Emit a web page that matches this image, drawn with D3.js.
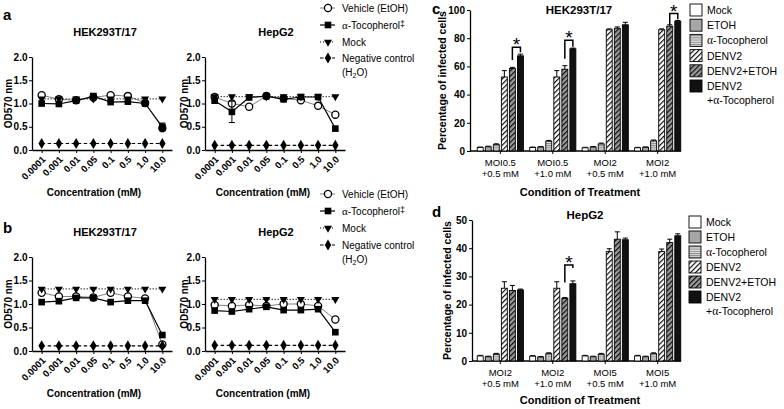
<!DOCTYPE html>
<html><head><meta charset="utf-8">
<script src="https://cdn.jsdelivr.net/npm/d3@7"></script>
<style>
body{margin:0;background:#fff}
svg{display:block}
text{font-family:"Liberation Sans",Arial,Helvetica,sans-serif;fill:#000}
</style>
</head><body>
<svg id="fig" width="784" height="409"></svg>
<script>
// ---------------- DATA ----------------
const concentrations = ["0.0001","0.001","0.01","0.05","0.1","0.5","1.0","10.0"];
const odTicks = [0, 0.5, 1.0, 1.5, 2.0];
const lineSeriesNames = ["Vehicle (EtOH)", "α-Tocopherol‡", "Mock", "Negative control"];

// panel a – HEK293T/17
const aHekVehicle = [1.18, 1.09, 1.07, 1.13, 1.18, 1.16, 1.01, 0.47];
const aHekVehicleErr = [0.02, 0.02, 0.02, 0.02, 0.02, 0.02, 0.02, 0.05];
const aHekToco = [1.00, 0.99, 1.06, 1.16, 1.03, 1.04, 1.00, 0.50];
const aHekTocoErr = [0.02, 0.02, 0.03, 0.05, 0.02, 0.02, 0.02, 0.08];
const aHekMock = [1.10, 1.10, 1.10, 1.10, 1.10, 1.10, 1.10, 1.10];
const aHekNeg = [0.14, 0.14, 0.14, 0.14, 0.14, 0.14, 0.14, 0.14];
// panel a – HepG2
const aHepVehicle = [1.14, 1.00, 0.93, 1.16, 1.11, 1.07, 0.95, 0.76];
const aHepVehicleErr = [0.02, 0.03, 0.02, 0.02, 0.02, 0.02, 0.02, 0.02];
const aHepToco = [1.06, 0.82, 1.13, 1.16, 1.09, 1.14, 1.14, 0.46];
const aHepTocoErr = [0.03, 0.23, 0.03, 0.02, 0.02, 0.02, 0.02, 0.03];
const aHepMock = [1.15, 1.15, 1.15, 1.15, 1.15, 1.15, 1.15, 1.15];
const aHepNeg = [0.10, 0.10, 0.10, 0.10, 0.10, 0.10, 0.10, 0.10];
// panel b – HEK293T/17
const bHekVehicle = [1.24, 1.16, 1.16, 1.14, 1.24, 1.16, 1.12, 0.14];
const bHekVehicleErr = [0.02, 0.02, 0.02, 0.02, 0.02, 0.02, 0.02, 0.02];
const bHekToco = [1.04, 1.06, 1.13, 1.13, 1.04, 1.07, 1.07, 0.34];
const bHekTocoErr = [0.02, 0.02, 0.02, 0.02, 0.02, 0.02, 0.02, 0.02];
const bHekMock = [1.32, 1.32, 1.32, 1.32, 1.32, 1.32, 1.32, 1.32];
const bHekNeg = [0.11, 0.11, 0.11, 0.11, 0.11, 0.11, 0.11, 0.11];
// panel b – HepG2
const bHepVehicle = [0.98, 0.96, 0.98, 0.96, 1.00, 1.00, 0.96, 0.67];
const bHepVehicleErr = [0.02, 0.02, 0.02, 0.02, 0.02, 0.02, 0.02, 0.02];
const bHepToco = [0.86, 0.84, 0.89, 0.94, 0.87, 0.87, 0.89, 0.40];
const bHepTocoErr = [0.02, 0.02, 0.02, 0.02, 0.02, 0.02, 0.02, 0.02];
const bHepMock = [1.10, 1.10, 1.10, 1.10, 1.10, 1.10, 1.10, 1.10];
const bHepNeg = [0.12, 0.12, 0.12, 0.12, 0.12, 0.12, 0.12, 0.12];

// bar panels
const barSeries = ["Mock", "ETOH", "α-Tocopherol", "DENV2", "DENV2+ETOH", "DENV2+α-Tocopherol"];
const cGroups = [["MOI0.5", "+0.5 mM"], ["MOI0.5", "+1.0 mM"], ["MOI2", "+0.5 mM"], ["MOI2", "+1.0 mM"]];
const cTicks = [0, 20, 40, 60, 80, 100];
const cMock = [2.5, 2.5, 2.3, 2.3];
const cEtoh = [3.0, 2.8, 2.8, 2.6];
const cToco = [4.5, 7.0, 5.0, 7.2];
const cDenv = [52.5, 52.5, 86.0, 86.0];
const cDenvEtoh = [58.5, 58.0, 87.0, 88.5];
const cDenvToco = [67.5, 72.5, 89.5, 92.0];
const cMockErr = [0.3, 0.3, 0.3, 0.3];
const cEtohErr = [0.4, 0.3, 0.4, 0.3];
const cTocoErr = [0.6, 0.5, 0.6, 0.6];
const cDenvErr = [4.5, 4.5, 0.6, 0.6];
const cDenvEtohErr = [0.8, 2.5, 1.0, 1.0];
const cDenvTocoErr = [1.2, 0.5, 1.8, 0.6];
// significance brackets: [group index, level, left-leg end, right-leg end]
const cSignif = [[0, 73.5, 64.5, 70], [1, 78.5, 65.5, 74], [3, 97.5, 89.5, 93.5]];

const dGroups = [["MOI2", "+0.5 mM"], ["MOI2", "+1.0 mM"], ["MOI5", "+0.5 mM"], ["MOI5", "+1.0 mM"]];
const dTicks = [0, 10, 20, 30, 40, 50];
const dMock = [1.8, 1.7, 1.8, 1.8];
const dEtoh = [1.5, 1.4, 1.5, 1.5];
const dToco = [2.4, 2.6, 2.4, 2.6];
const dDenv = [25.8, 25.8, 38.8, 38.8];
const dDenvEtoh = [25.0, 22.2, 43.2, 42.0];
const dDenvToco = [25.2, 27.4, 43.0, 44.4];
const dMockErr = [0.2, 0.2, 0.2, 0.2];
const dEtohErr = [0.2, 0.2, 0.2, 0.2];
const dTocoErr = [0.3, 0.3, 0.3, 0.3];
const dDenvErr = [2.3, 2.3, 1.0, 0.9];
const dDenvEtohErr = [1.8, 0.3, 2.6, 1.2];
const dDenvTocoErr = [0.3, 1.0, 0.6, 0.7];
const dSignif = [[1, 34.0, 27.8, 33.0]];

// ---------------- DRAWING ----------------
const svg = d3.select("#fig");
svg.append("rect").attr("width", 784).attr("height", 409).attr("fill", "#fff");
const defs = svg.append("defs");

// patterns
const ph = defs.append("pattern").attr("id", "hstripe").attr("patternUnits", "userSpaceOnUse")
  .attr("width", 4).attr("height", 2.2);
ph.append("rect").attr("width", 4).attr("height", 2.2).attr("fill", "#dcdcdc");
ph.append("line").attr("x1", 0).attr("x2", 4).attr("y1", 0.5).attr("y2", 0.5).attr("stroke", "#7a7a7a").attr("stroke-width", 0.8);
function diag(id, bg) {
  const p = defs.append("pattern").attr("id", id).attr("patternUnits", "userSpaceOnUse")
    .attr("width", 3.6).attr("height", 3.6).attr("patternTransform", "rotate(45)");
  p.append("rect").attr("width", 3.6).attr("height", 3.6).attr("fill", bg);
  p.append("line").attr("x1", 0.6).attr("x2", 0.6).attr("y1", 0).attr("y2", 3.6).attr("stroke", "#000").attr("stroke-width", 1.1);
}
diag("diagW", "#fff");
diag("diagG", "#9a9a9a");
const barFills = ["#fff", "#a6a6a6", "url(#hstripe)", "url(#diagW)", "url(#diagG)", "#111"];

function panelLetter(t, x, y) {
  svg.append("text").attr("x", x).attr("y", y).attr("font-size", 15).attr("font-weight", "bold").text(t);
}

const markerSym = [d3.symbolCircle, d3.symbolSquare, d3.symbolTriangle, d3.symbolDiamond];
const markerSize = [40, 44, 28, 36];
function drawMarker(g, i, cx, cy) {
  const p = g.append("path").attr("d", d3.symbol(markerSym[i], markerSize[i])())
    .attr("transform", `translate(${cx},${cy})` + (i === 2 ? " rotate(180)" : ""));
  if (i === 0) p.attr("fill", "#fff").attr("stroke", "#000").attr("stroke-width", 1.3);
  else p.attr("fill", "#000");
}
const lineStyles = [
  {stroke: "#7f7f7f", width: 1, dash: null},
  {stroke: "#000", width: 1.2, dash: null},
  {stroke: "#000", width: 1.2, dash: "1,2"},
  {stroke: "#000", width: 1.1, dash: "3.5,2.5"}
];

function linePanel(o) {
  const g = svg.append("g");
  const x = d3.scalePoint().domain(concentrations).range([o.x0, o.x1]).padding(0.56);
  const y = d3.scaleLinear().domain([0, 2]).range([o.yB, o.yT]);
  const ya = g.append("g").attr("transform", `translate(${o.x0},0)`)
    .call(d3.axisLeft(y).tickValues(odTicks).tickFormat(d3.format(".1f")).tickSize(3).tickSizeOuter(0).tickPadding(1.5));
  ya.selectAll("text").attr("font-size", 10).attr("font-weight", "bold").attr("font-family", "Liberation Sans, Arial");
  const xa = g.append("g").attr("transform", `translate(0,${o.yB})`)
    .call(d3.axisBottom(x).tickSize(3).tickSizeOuter(0));
  xa.selectAll("text").attr("font-size", 9.5).attr("font-weight", "bold").attr("font-family", "Liberation Sans, Arial")
    .attr("text-anchor", "end").attr("y", 0).attr("dy", 0)
    .attr("transform", "translate(4,10) rotate(-45)");
  g.selectAll(".domain").attr("stroke", "#000").attr("stroke-width", 1.3);
  g.selectAll(".tick line").attr("stroke", "#000").attr("stroke-width", 1);

  g.append("text").attr("x", o.titleX).attr("y", o.titleY).attr("text-anchor", "middle")
    .attr("font-size", 11).attr("font-weight", "bold").text(o.title);
  g.append("text").attr("transform", `translate(${o.yLabX},${(o.yT + o.yB) / 2}) rotate(-90)`)
    .attr("text-anchor", "middle").attr("font-size", 10).attr("font-weight", "bold").text("OD570 nm");
  g.append("text").attr("x", o.xTitX).attr("y", o.xTitY).attr("text-anchor", "middle")
    .attr("font-size", 10).attr("font-weight", "bold").text("Concentration (mM)");

  const line = d3.line().x((d, i) => x(concentrations[i])).y(d => y(d));
  const data = [o.vehicle, o.toco, o.mock, o.neg];
  const errs = [o.vehicleErr, o.tocoErr, null, null];
  data.forEach((vals, si) => {
    const st = lineStyles[si];
    g.append("path").attr("d", line(vals)).attr("fill", "none").attr("stroke", st.stroke)
      .attr("stroke-width", st.width).attr("stroke-dasharray", st.dash);
  });
  [0, 1, 2, 3].forEach(si => {
    const vals = data[si];
    vals.forEach((v, i) => {
      const cx = x(concentrations[i]);
      if (errs[si]) {
        const e = errs[si][i];
        if (e > 0.03) {
          const y1 = y(v - e), y2 = y(v + e);
          g.append("line").attr("x1", cx).attr("x2", cx).attr("y1", y1).attr("y2", y2).attr("stroke", "#000").attr("stroke-width", 1);
          [y1, y2].forEach(yy => g.append("line").attr("x1", cx - 3).attr("x2", cx + 3).attr("y1", yy).attr("y2", yy).attr("stroke", "#000").attr("stroke-width", 1));
        }
      }
      drawMarker(g, si, cx, y(v));
    });
  });
}

function lineLegend(x, rows) {
  const g = svg.append("g");
  lineSeriesNames.forEach((name, i) => {
    const st = lineStyles[i];
    const cy = rows[i];
    g.append("line").attr("x1", x - 8).attr("x2", x + 7).attr("y1", cy).attr("y2", cy)
      .attr("stroke", st.stroke).attr("stroke-width", st.width).attr("stroke-dasharray", st.dash);
    drawMarker(g, i, x, cy);
    const t = g.append("text").attr("x", x + 14).attr("y", cy + 3.5).attr("font-size", 10);
    if (i === 1) {
      t.append("tspan").attr("font-family", "Liberation Serif, Times New Roman").attr("font-size", 11).text("α");
      t.append("tspan").text("-Tocopherol");
      t.append("tspan").attr("font-size", 9).attr("dy", -1.5).text("‡");
    } else t.text(name);
  });
  const t2 = g.append("text").attr("x", x + 14).attr("y", rows[4] + 3.5).attr("font-size", 10);
  t2.append("tspan").text("(H");
  t2.append("tspan").attr("font-size", 7).attr("dy", 2.5).text("2");
  t2.append("tspan").attr("dy", -2.5).text("O)");
}

function barPanel(o) {
  const g = svg.append("g");
  const x = d3.scaleBand().domain(d3.range(o.groups.length)).range([o.bx0, o.bx1]).paddingInner(0.12).paddingOuter(0.1);
  const xs = d3.scaleBand().domain(barSeries).range([0, x.bandwidth()]).paddingInner(0.26);
  const y = d3.scaleLinear().domain([0, o.max]).range([o.yB, o.yT]);
  const ya = g.append("g").attr("transform", `translate(${o.ax0},0)`)
    .call(d3.axisLeft(y).tickValues(o.ticks).tickSize(3).tickSizeOuter(0).tickPadding(2));
  ya.selectAll("text").attr("font-size", 10).attr("font-weight", "bold").attr("font-family", "Liberation Sans, Arial");
  const xa = g.append("g").attr("transform", `translate(0,${o.yB})`)
    .call(d3.axisBottom(x).tickSize(3).tickSizeOuter(0).tickFormat(""));
  xa.select(".domain").remove();
  xa.append("line").attr("x1", o.ax0).attr("x2", o.ax1).attr("stroke", "#000").attr("stroke-width", 1.3);
  ya.select(".domain").attr("stroke", "#000").attr("stroke-width", 1.3);
  g.selectAll(".tick line").attr("stroke", "#000");
  o.groups.forEach((lab, gi) => {
    const cx = x(gi) + x.bandwidth() / 2;
    g.append("text").attr("x", cx).attr("y", o.yB + 15).attr("text-anchor", "middle").attr("font-size", 9.5).attr("fill", "#333").text(lab[0]);
    g.append("text").attr("x", cx).attr("y", o.yB + 26).attr("text-anchor", "middle").attr("font-size", 9.5).attr("fill", "#333").text(lab[1]);
  });
  o.values.forEach((vals, si) => {
    vals.forEach((v, gi) => {
      const bx = x(gi) + xs(barSeries[si]);
      const w = xs.bandwidth();
      const e = o.errs[si][gi];
      g.append("line").attr("x1", bx + w / 2).attr("x2", bx + w / 2).attr("y1", y(v)).attr("y2", y(v + e)).attr("stroke", "#000").attr("stroke-width", 1);
      g.append("line").attr("x1", bx + w / 2 - 2.5).attr("x2", bx + w / 2 + 2.5).attr("y1", y(v + e)).attr("y2", y(v + e)).attr("stroke", "#000").attr("stroke-width", 1);
      g.append("rect").attr("x", bx).attr("y", y(v)).attr("width", w).attr("height", y(0) - y(v))
        .attr("fill", barFills[si]).attr("stroke", "#000").attr("stroke-width", 0.9);
    });
  });
  o.signif.forEach(([gi, lev, lEnd, rEnd]) => {
    const xa1 = x(gi) + xs(barSeries[4]) + xs.bandwidth() / 2;
    const xb1 = x(gi) + xs(barSeries[5]) + xs.bandwidth() / 2;
    g.append("path").attr("d", `M${xa1},${y(lEnd)}V${y(lev)}H${xb1}V${y(rEnd)}`)
      .attr("fill", "none").attr("stroke", "#000").attr("stroke-width", 1.5);
    g.append("text").attr("x", (xa1 + xb1) / 2).attr("y", y(lev) + 4).attr("text-anchor", "middle")
      .attr("font-size", 19).text("*");
  });
  g.append("text").attr("x", o.titleX).attr("y", o.titleY).attr("text-anchor", "middle")
    .attr("font-size", 11.5).attr("font-weight", "bold").text(o.title);
  g.append("text").attr("transform", `translate(${o.yLabX},${(o.yT + o.yB) / 2}) rotate(-90)`)
    .attr("text-anchor", "middle").attr("font-size", 10.5).attr("font-weight", "bold").text("Percentage of infected cells");
  g.append("text").attr("x", o.xTitX).attr("y", o.xTitY).attr("text-anchor", "middle")
    .attr("font-size", 11).attr("font-weight", "bold").text("Condition of Treatment");
}

function barLegend(x, y0, step) {
  const g = svg.append("g");
  barSeries.forEach((name, i) => {
    const cy = y0 + i * step;
    g.append("rect").attr("x", x).attr("y", cy - 6).attr("width", 12).attr("height", 12)
      .attr("fill", barFills[i]).attr("stroke", "#000").attr("stroke-width", 0.9);
    const t = g.append("text").attr("x", x + 17).attr("y", cy + 4).attr("font-size", 10.5);
    if (name === "α-Tocopherol") {
      t.append("tspan").attr("font-family", "Liberation Serif, Times New Roman").attr("font-size", 11.5).text("α");
      t.append("tspan").text("-Tocopherol");
    } else if (i === 5) {
      t.text("DENV2");
      const t2 = g.append("text").attr("x", x + 17).attr("y", cy + 4 + step - 1).attr("font-size", 10.5);
      t2.append("tspan").text("+");
      t2.append("tspan").attr("font-family", "Liberation Serif, Times New Roman").attr("font-size", 11.5).text("α");
      t2.append("tspan").text("-Tocopherol");
    } else t.text(name);
  });
}

// ---- a ----
panelLetter("a", 3, 20);
linePanel({x0: 32, x1: 172, yT: 57, yB: 150, title: "HEK293T/17", titleX: 105, titleY: 36, yLabX: 12, xTitX: 94, xTitY: 196,
  vehicle: aHekVehicle, vehicleErr: aHekVehicleErr, toco: aHekToco, tocoErr: aHekTocoErr, mock: aHekMock, neg: aHekNeg});
linePanel({x0: 205, x1: 345, yT: 57, yB: 150, title: "HepG2", titleX: 276, titleY: 36, yLabX: 188, xTitX: 263, xTitY: 196,
  vehicle: aHepVehicle, vehicleErr: aHepVehicleErr, toco: aHepToco, tocoErr: aHepTocoErr, mock: aHepMock, neg: aHepNeg});
lineLegend(328, [8, 25, 42, 58, 72]);
// ---- b ----
panelLetter("b", 3, 233);
linePanel({x0: 32, x1: 172, yT: 257, yB: 351, title: "HEK293T/17", titleX: 105, titleY: 236, yLabX: 12, xTitX: 94, xTitY: 397,
  vehicle: bHekVehicle, vehicleErr: bHekVehicleErr, toco: bHekToco, tocoErr: bHekTocoErr, mock: bHekMock, neg: bHekNeg});
linePanel({x0: 205, x1: 345, yT: 257, yB: 351, title: "HepG2", titleX: 276, titleY: 236, yLabX: 188, xTitX: 263, xTitY: 397,
  vehicle: bHepVehicle, vehicleErr: bHepVehicleErr, toco: bHepToco, tocoErr: bHepTocoErr, mock: bHepMock, neg: bHepNeg});
lineLegend(328, [194, 211, 228, 245, 259]);
// ---- c ----
panelLetter("c", 432, 14);
barPanel({ax0: 470, ax1: 681, bx0: 472, bx1: 686, yT: 10, yB: 151, max: 100, ticks: cTicks, groups: cGroups,
  values: [cMock, cEtoh, cToco, cDenv, cDenvEtoh, cDenvToco],
  errs: [cMockErr, cEtohErr, cTocoErr, cDenvErr, cDenvEtohErr, cDenvTocoErr],
  signif: cSignif, title: "HEK293T/17", titleX: 579, titleY: 14, yLabX: 446, xTitX: 580, xTitY: 196});
barLegend(690, 10, 15.2);
// ---- d ----
panelLetter("d", 432, 217);
barPanel({ax0: 472, ax1: 681, bx0: 472, bx1: 686, yT: 220, yB: 361, max: 50, ticks: dTicks, groups: dGroups,
  values: [dMock, dEtoh, dToco, dDenv, dDenvEtoh, dDenvToco],
  errs: [dMockErr, dEtohErr, dTocoErr, dDenvErr, dDenvEtohErr, dDenvTocoErr],
  signif: dSignif, title: "HepG2", titleX: 585, titleY: 219, yLabX: 451, xTitX: 580, xTitY: 404});
barLegend(689, 222, 15);
</script>
</body></html>
